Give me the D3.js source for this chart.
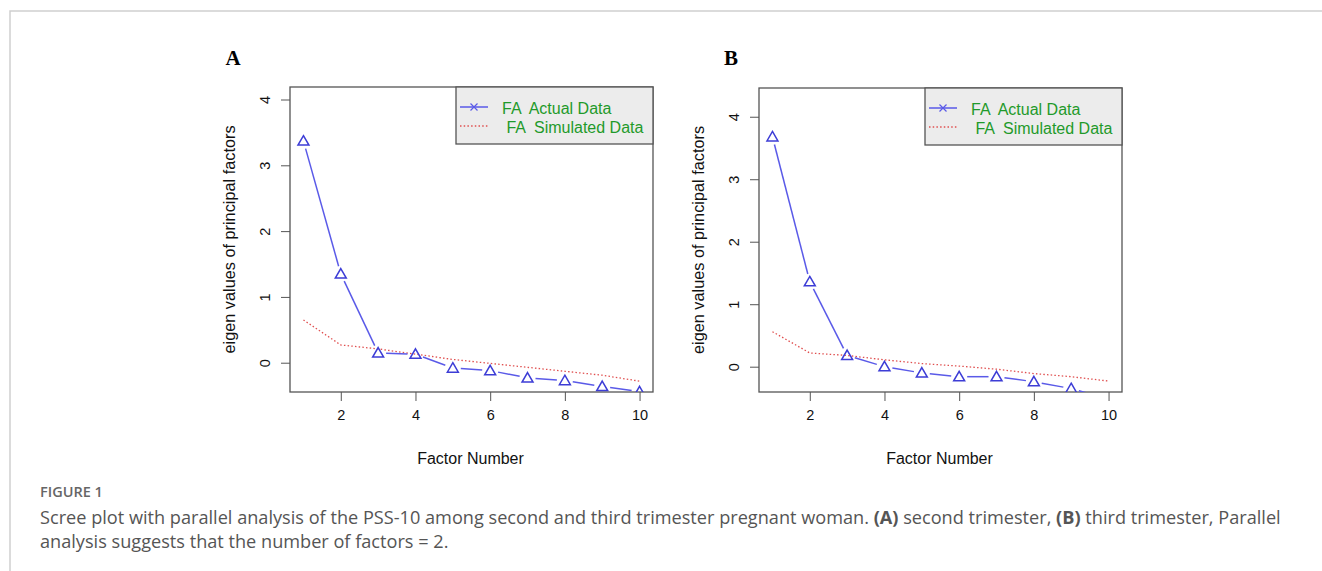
<!DOCTYPE html>
<html>
<head>
<meta charset="utf-8">
<script src="https://cdn.jsdelivr.net/npm/d3@7"></script>
<style>
  body { margin: 0; background: #fff; }
  .frame { stroke: #cfcfcf; stroke-width: 1.5; fill: none; }
  .caption { font-family: "Open Sans", sans-serif; fill: #555; font-size: 18.15px; }
</style>
</head>
<body>
<script>
// factor numbers on the x axis
var factors = [1, 2, 3, 4, 5, 6, 7, 8, 9, 10];

// panel A (second trimester)
var actualA = [3.37, 1.35, 0.15, 0.13, -0.08, -0.12, -0.23, -0.27, -0.36, -0.44];
var simA = [0.65, 0.27, 0.21, 0.13, 0.05, -0.01, -0.07, -0.13, -0.19, -0.28];

// panel B (third trimester)
var actualB = [3.68, 1.36, 0.18, 0.0, -0.1, -0.16, -0.16, -0.24, -0.35, -0.52];
var simB = [0.56, 0.22, 0.18, 0.11, 0.05, 0.01, -0.04, -0.11, -0.16, -0.23];

var xTicks = [2, 4, 6, 8, 10];
var yTicks = [0, 1, 2, 3, 4];
var legendLabels = ["FA  Actual Data", " FA  Simulated Data"];

var svg = d3.select("body").append("svg")
    .attr("width", 1322)
    .attr("height", 571);

// frame lines round the figure
svg.append("path").attr("class", "frame")
    .attr("d", "M10,571 L10,11 L1322,11");

var blue = "#5a5ae8";
var red = "#e05050";
var green = "#1f9a2a";
var sans = "'Liberation Sans', Arial, sans-serif";

function drawPanel(p) {
    var g = svg.append("g");
    var x = d3.scaleLinear().domain([0.64, 10.36]).range([p.left, p.right]);
    var y = d3.scaleLinear().domain(p.yDomain).range([p.bottom, p.top]);

    var clipId = "clip" + p.label;
    g.append("clipPath").attr("id", clipId)
        .append("rect")
        .attr("x", p.left).attr("y", p.top)
        .attr("width", p.right - p.left).attr("height", p.bottom - p.top);

    // panel letter
    g.append("text")
        .attr("x", p.labelX).attr("y", 65)
        .attr("text-anchor", "middle")
        .style("font-family", "'Liberation Serif', serif")
        .style("font-weight", "bold")
        .style("font-size", "21px")
        .text(p.label);

    // axes
    var xAxis = d3.axisBottom(x).tickValues(xTicks).tickFormat(d3.format("d")).tickSize(9).tickPadding(14);
    var yAxis = d3.axisLeft(y).tickValues(yTicks).tickFormat(d3.format("d")).tickSize(9);

    var gx = g.append("g")
        .attr("transform", "translate(0," + p.bottom + ")")
        .call(xAxis)
        .attr("font-size", 14.5)
        .attr("font-family", sans);
    gx.select(".domain").remove();
    gx.selectAll(".tick line").attr("stroke", "#555");
    gx.selectAll(".tick text").attr("fill", "#111").attr("dy", "0.35em");

    var gy = g.append("g")
        .attr("transform", "translate(" + p.left + ",0)")
        .call(yAxis)
        .attr("font-size", 14.5)
        .attr("font-family", sans);
    gy.select(".domain").remove();
    gy.selectAll(".tick line").attr("stroke", "#555");
    gy.selectAll(".tick text")
        .attr("fill", "#111")
        .attr("text-anchor", "middle")
        .attr("x", null)
        .attr("transform", "translate(-25,0) rotate(-90)")
        .attr("dy", "0.35em");

    // box
    g.append("rect")
        .attr("x", p.left).attr("y", p.top)
        .attr("width", p.right - p.left).attr("height", p.bottom - p.top)
        .attr("fill", "none").attr("stroke", "#555").attr("stroke-width", 1.3);

    // axis titles
    g.append("text")
        .attr("transform", "translate(" + (p.left - 61) + "," + ((p.top + p.bottom) / 2) + ") rotate(-90)")
        .attr("text-anchor", "middle")
        .attr("dy", "0.35em")
        .style("font-family", sans)
        .style("font-size", "16.3px")
        .attr("fill", "#111")
        .text("eigen values of principal factors");

    g.append("text")
        .attr("x", (p.left + p.right) / 2 - 1).attr("y", p.bottom + 66)
        .attr("dy", "0.35em")
        .attr("text-anchor", "middle")
        .style("font-family", sans)
        .style("font-size", "16px")
        .attr("fill", "#111")
        .text("Factor Number");

    var plot = g.append("g").attr("clip-path", "url(#" + clipId + ")");

    // simulated data: dotted red line
    var line = d3.line()
        .x(function(d, i) { return x(factors[i]); })
        .y(function(d) { return y(d); });
    plot.append("path")
        .datum(p.sim)
        .attr("d", line)
        .attr("fill", "none")
        .attr("stroke", red)
        .attr("stroke-width", 1.3)
        .attr("stroke-dasharray", "1.5,2.2");

    // actual data: R type "b" — segments with gaps round the points
    var pts = p.actual.map(function(d, i) { return [x(factors[i]), y(d)]; });
    var gap = 8;
    for (var i = 0; i < pts.length - 1; i++) {
        var a = pts[i], b = pts[i + 1];
        var dx = b[0] - a[0], dy = b[1] - a[1];
        var len = Math.sqrt(dx * dx + dy * dy);
        if (len <= 2 * gap) continue;
        var ux = dx / len, uy = dy / len;
        plot.append("line")
            .attr("x1", a[0] + ux * gap).attr("y1", a[1] + uy * gap)
            .attr("x2", b[0] - ux * gap).attr("y2", b[1] - uy * gap)
            .attr("stroke", blue).attr("stroke-width", 1.5);
    }

    var tri = d3.symbol().type(d3.symbolTriangle).size(52);
    plot.selectAll(".pt")
        .data(pts)
        .enter().append("path")
        .attr("class", "pt")
        .attr("d", tri)
        .attr("transform", function(d) { return "translate(" + d[0] + "," + (d[1] + 1) + ")"; })
        .attr("fill", "none")
        .attr("stroke", "#3d3dd6")
        .attr("stroke-width", 1.5);

    // legend
    var lx = p.legendLeft, lw = p.right - p.legendLeft;
    var leg = g.append("g");
    leg.append("rect")
        .attr("x", lx).attr("y", p.top)
        .attr("width", lw).attr("height", 57)
        .attr("fill", "#ececec").attr("stroke", "#555").attr("stroke-width", 1.3);
    leg.append("line")
        .attr("x1", lx + 4).attr("x2", lx + 32)
        .attr("y1", p.top + 20).attr("y2", p.top + 20)
        .attr("stroke", blue).attr("stroke-width", 1.5);
    // pch 4 cross on the legend line
    var cx = lx + 18, cy = p.top + 20, r = 3.5;
    leg.append("path")
        .attr("d", "M" + (cx - r) + "," + (cy - r) + "L" + (cx + r) + "," + (cy + r) +
                   "M" + (cx - r) + "," + (cy + r) + "L" + (cx + r) + "," + (cy - r))
        .attr("fill", "none").attr("stroke", blue).attr("stroke-width", 1.2);
    leg.append("line")
        .attr("x1", lx + 4).attr("x2", lx + 32)
        .attr("y1", p.top + 39).attr("y2", p.top + 39)
        .attr("stroke", red).attr("stroke-width", 1.3)
        .attr("stroke-dasharray", "1.5,2.2");
    leg.selectAll(".lt")
        .data(legendLabels)
        .enter().append("text")
        .attr("x", lx + 46)
        .attr("y", function(d, i) { return p.top + 21 + i * 19; })
        .attr("dy", "0.35em")
        .attr("xml:space", "preserve")
        .style("white-space", "pre")
        .style("font-family", sans)
        .style("font-size", "16px")
        .attr("fill", green)
        .text(function(d) { return d; });
}

drawPanel({ label: "A", labelX: 233, left: 290, right: 653, top: 87, bottom: 392,
    yDomain: [-0.445, 4.19], actual: actualA, sim: simA, legendLeft: 456 });
drawPanel({ label: "B", labelX: 731, left: 759, right: 1122, top: 88, bottom: 392,
    yDomain: [-0.405, 4.46], actual: actualB, sim: simB, legendLeft: 925 });

// caption
svg.append("text")
    .attr("x", 40).attr("y", 497)
    .style("font-family", "'Open Sans', sans-serif")
    .style("font-size", "14.5px")
    .style("font-weight", "600")
    .attr("fill", "#666")
    .text("FIGURE 1");

var cap1 = svg.append("text").attr("class", "caption").attr("x", 40).attr("y", 524);
cap1.append("tspan").text("Scree plot with parallel analysis of the PSS-10 among second and third trimester pregnant woman. ");
cap1.append("tspan").style("font-weight", "bold").text("(A)");
cap1.append("tspan").text(" second trimester, ");
cap1.append("tspan").style("font-weight", "bold").text("(B)");
cap1.append("tspan").text(" third trimester, Parallel");

svg.append("text").attr("class", "caption").attr("x", 40).attr("y", 548)
    .text("analysis suggests that the number of factors = 2.");
</script>
</body>
</html>
